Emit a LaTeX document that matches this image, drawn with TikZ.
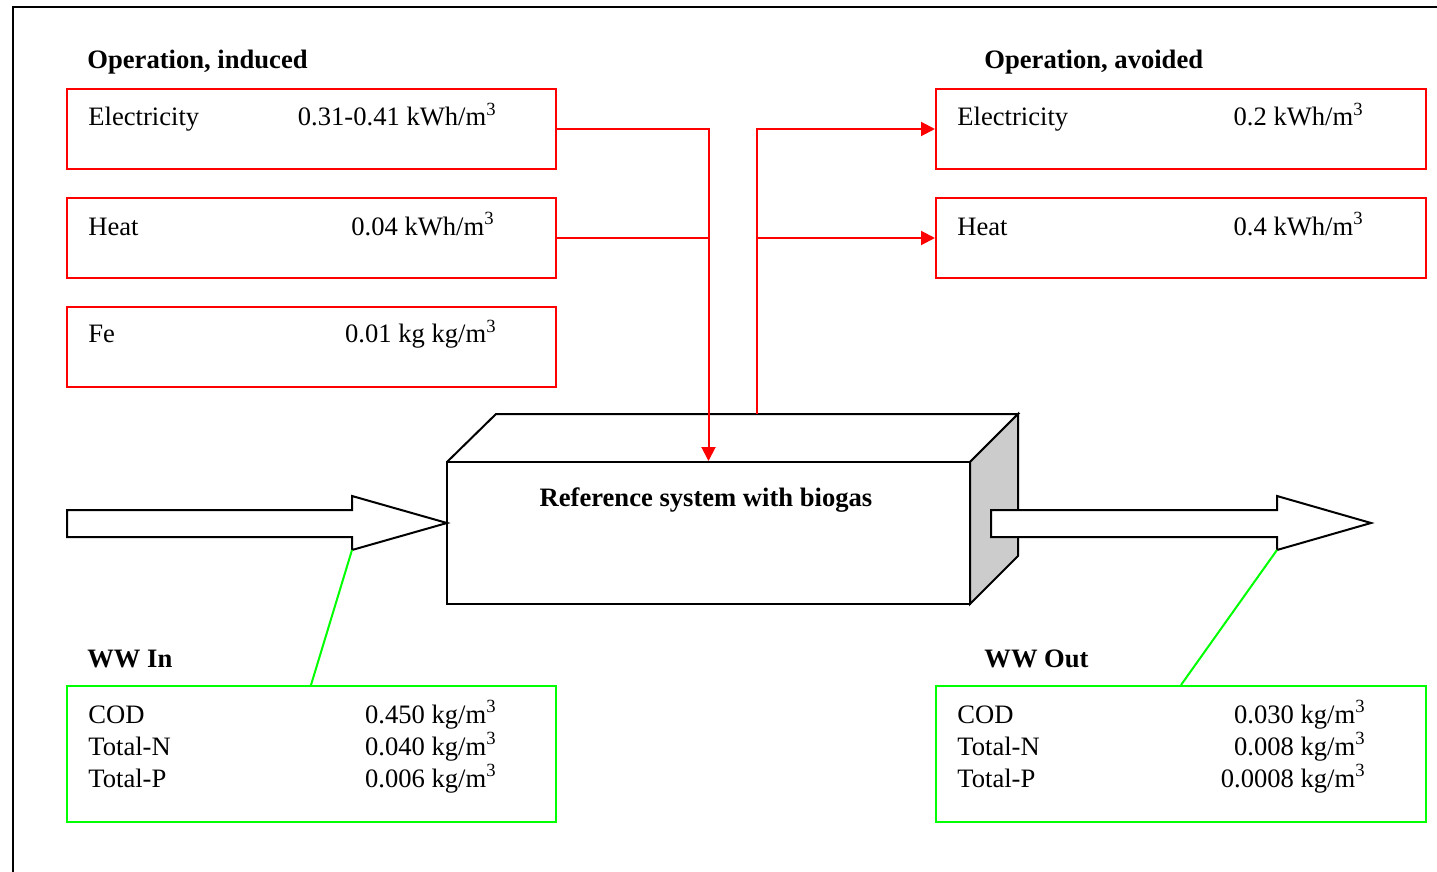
\documentclass[tikz,border=0pt]{standalone}
\usepackage{fontspec}
\setmainfont{Liberation Serif}
\usetikzlibrary{arrows.meta}
\tikzset{
  redbox/.style={draw=red, line width=1pt, minimum width=244.5pt, minimum height=40pt, inner sep=0pt},
  greenbox/.style={draw=green, line width=1pt, minimum width=244.5pt, minimum height=68pt, inner sep=0pt},
  flow/.style={draw=red, line width=1pt, -{Triangle[length=7pt,width=7pt]}},
  link/.style={draw=green, line width=1pt},
  txt/.style={anchor=base west, inner sep=0pt, font=\fontsize{13.3}{16}\selectfont},
  val/.style={anchor=base east, inner sep=0pt, font=\fontsize{13.3}{16}\selectfont},
  ttl/.style={anchor=base west, inner sep=0pt, font=\fontsize{13.3}{16}\selectfont\bfseries},
  body/.style={draw=black, line width=1pt, line join=miter},
}
\newcommand{\cub}{\textsuperscript{3}}
\begin{document}
\begin{tikzpicture}[x=0.5pt, y=-0.5pt]
\useasboundingbox (0,0) rectangle (1437,872);
% page frame
\draw[line width=1.2pt] (13,872) -- (13,7) -- (1437,7);

% operation, induced
\node[ttl] (tin) at (87,69) {Operation, induced};
\node[redbox] (ie) at (311.5,129) {};
\node[redbox] (ih) at (311.5,238) {};
\node[redbox] (if) at (311.5,346.5) {};
\node[txt] (ieL) at (88,126) {Electricity};
\node[val] (ieV) at (497,126) {0.31-0.41 kWh/m\cub};
\node[txt] (ihL) at (88,235) {Heat};
\node[val] (ihV) at (495,235) {0.04 kWh/m\cub};
\node[txt] (ifL) at (88,343) {Fe};
\node[val] (ifV) at (497,343) {0.01 kg kg/m\cub};

% operation, avoided
\node[ttl] (tav) at (984,69) {Operation, avoided};
\node[redbox, minimum width=245pt] (ae) at (1181,129) {};
\node[redbox, minimum width=245pt] (ah) at (1181,238) {};
\node[txt] (aeL) at (957,126) {Electricity};
\node[val] (aeV) at (1364,126) {0.2 kWh/m\cub};
\node[txt] (ahL) at (957,235) {Heat};
\node[val] (ahV) at (1364,235) {0.4 kWh/m\cub};

% the process block (front face as node)
\node[body, minimum width=261.5pt, minimum height=71pt, inner sep=0pt] (sys) at (708.5,533) {};
\draw[body] (447,462) -- (496,414) -- (1018,414) -- (970,462);
\draw[body, fill=black!20] (970,462) -- (1018,414) -- (1018,556) -- (970,604) -- cycle;
\node[anchor=base, inner sep=0pt, font=\fontsize{13.3}{16}\selectfont\bfseries] (sysT) at (706,506) {Reference system with biogas};
\coordinate (up) at (757,414);

% red connectors
\draw[flow] (ie.east) -| (sys.north);
\draw[draw=red, line width=1pt] (ih.east) -- (ih.east -| sys.north);
\draw[flow] (up) |- (ae.west);
\draw[flow] (up |- ah.west) -- (ah.west);

% wastewater in / out arrows
\coordinate (inTip) at (447,523);
\coordinate (outTip) at (1371,523);
\draw[body, fill=white] (67,510) -- (352,510) -- (352,496) -- (inTip) -- (352,550) -- (352,537) -- (67,537) -- cycle;
\draw[body, fill=white] (991,510) -- (1277,510) -- (1277,496) -- (outTip) -- (1277,550) -- (1277,537) -- (991,537) -- cycle;
\coordinate (inFoot) at (352,550);
\coordinate (outFoot) at (1277,550);

% WW In
\node[ttl] (twi) at (87,667) {WW In};
\node[greenbox] (wi) at (311.5,754) {};
\draw[link] (inFoot) -- (wi.north -| 311,0);
\node[txt] (wi1) at (88,723) {COD};
\node[txt] (wi2) at (88,755) {Total-N};
\node[txt] (wi3) at (88,787) {Total-P};
\node[val] (wv1) at (497,723) {0.450 kg/m\cub};
\node[val] (wv2) at (497,755) {0.040 kg/m\cub};
\node[val] (wv3) at (497,787) {0.006 kg/m\cub};

% WW Out
\node[ttl] (two) at (984,667) {WW Out};
\node[greenbox, minimum width=245pt] (wo) at (1181,754) {};
\draw[link] (outFoot) -- (wo.north);
\node[txt] (wo1) at (957,723) {COD};
\node[txt] (wo2) at (957,755) {Total-N};
\node[txt] (wo3) at (957,787) {Total-P};
\node[val] (ov1) at (1366,723) {0.030 kg/m\cub};
\node[val] (ov2) at (1366,755) {0.008 kg/m\cub};
\node[val] (ov3) at (1366,787) {0.0008 kg/m\cub};
\end{tikzpicture}
\end{document}
